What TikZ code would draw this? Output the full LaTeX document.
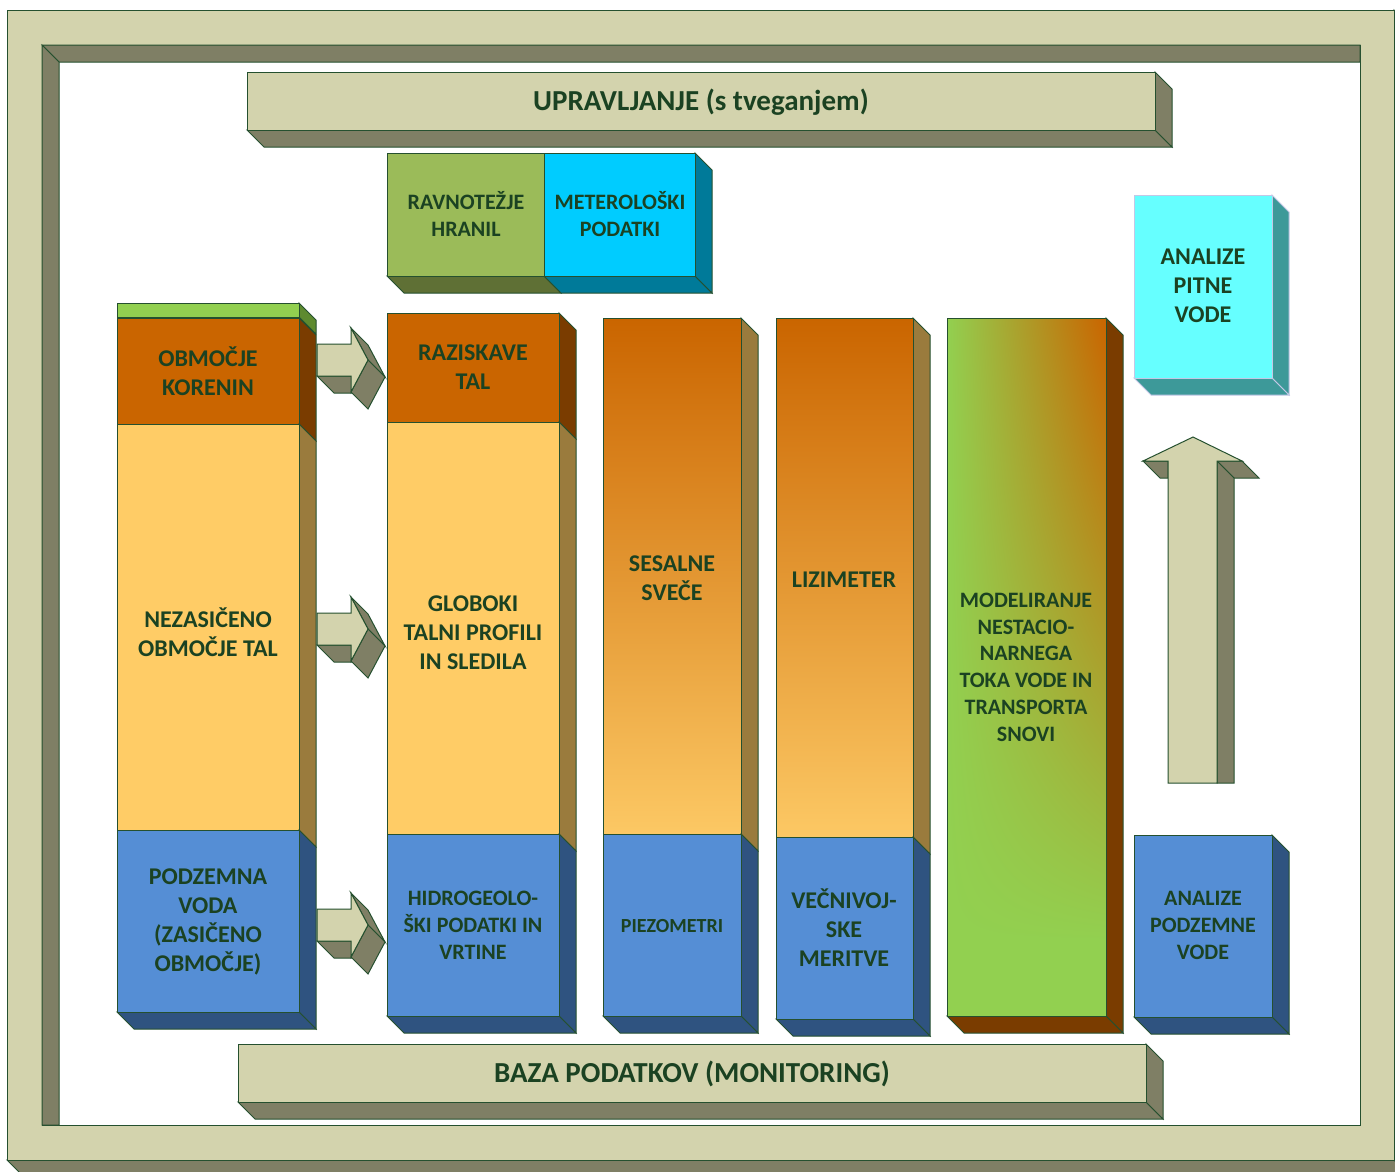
\documentclass[tikz,border=0pt]{standalone}
\usepackage{fontspec}
\setmainfont{Carlito}
\usetikzlibrary{shadings}
\definecolor{khaki}{HTML}{D3D3AD}
\definecolor{khakid}{HTML}{7F7F65}
\definecolor{edgec}{HTML}{25502F}
\definecolor{txt}{HTML}{1B4222}
\definecolor{org}{HTML}{CA6500}
\definecolor{orgd}{HTML}{7A3C00}
\definecolor{yel}{HTML}{FFCC66}
\definecolor{yelb}{HTML}{FCC864}
\definecolor{yeld}{HTML}{9A7B3D}
\definecolor{blu}{HTML}{558ED5}
\definecolor{blud}{HTML}{2F5380}
\definecolor{grn}{HTML}{92D050}
\definecolor{grnd}{HTML}{5E8A2F}
\definecolor{olv}{HTML}{9BBB59}
\definecolor{olvd}{HTML}{5F7035}
\definecolor{cya}{HTML}{00CCFF}
\definecolor{cyad}{HTML}{007A99}
\definecolor{lcy}{HTML}{66FFFF}
\definecolor{lcyd}{HTML}{3D9999}
\definecolor{lav}{HTML}{C3C8E6}
\tikzset{
  face/.style={draw=edgec, line width=1pt},
  lbl/.style={align=center, text=txt, inner sep=0pt,
    font=\bfseries\fontsize{24}{29}\selectfont,
    execute at begin node=\vphantom{Ž}, execute at end node=\vphantom{g}},
  lblm/.style={lbl, font=\bfseries\fontsize{22}{26.8}\selectfont},
  lbls/.style={lbl, font=\bfseries\fontsize{20}{24}\selectfont},
  lblt/.style={lbl, font=\bfseries\fontsize{29}{35}\selectfont},
}
% right face: x2, y1, y2, fill
\newcommand\rface[4]{\path[face,fill=#4] (#1,#2) -- (#1+17,#2+17) -- (#1+17,#3+17) -- (#1,#3) -- cycle;}
% bottom face: x1, x2, y2, fill
\newcommand\bface[4]{\path[face,fill=#4] (#1,#3) -- (#2,#3) -- (#2+17,#3+17) -- (#1+17,#3+17) -- cycle;}
% right-pointing 3D arrow, centre y
\newcommand\rarr[1]{%
  \path[face,fill=khakid] (317,#1+16) -- (351,#1+16) -- (368,#1+33) -- (334,#1+33) -- cycle;
  \path[face,fill=khakid] (351,#1-32) -- (368,#1) -- (385,#1+17) -- (368,#1-15) -- cycle;
  \path[face,fill=khakid] (368,#1) -- (351,#1+32) -- (368,#1+49) -- (385,#1+17) -- cycle;
  \path[face,fill=khaki] (317,#1-16) -- (351,#1-16) -- (351,#1-32) -- (368,#1) -- (351,#1+32) -- (351,#1+16) -- (317,#1+16) -- cycle;}
\begin{document}
\begin{tikzpicture}[x=1pt,y=-1pt]
\useasboundingbox (0,0) rectangle (1395,1171);
\clip (0,0) rectangle (1395,1171);
\fill[white] (0,0) rectangle (1395,1171);
% ---- outer frame ----
\path[face,fill=khakid] (7,1160) -- (1394,1160) -- (1411,1177) -- (24,1177) -- cycle;
\path[face,fill=khakid] (1394,10) -- (1411,27) -- (1411,1177) -- (1394,1160) -- cycle;
\path[face,fill=khaki,even odd rule] (7,10) rectangle (1394,1160) (42,45) rectangle (1360,1125);
\path[face,fill=khakid] (42,45) -- (1360,45) -- (1360,62) -- (59,62) -- cycle;
\path[face,fill=khakid] (42,45) -- (59,62) -- (59,1125) -- (42,1125) -- cycle;
% ---- UPRAVLJANJE ----
\bface{247}{1155}{130}{khakid}
\rface{1155}{72}{130}{khakid}
\path[face,fill=khaki] (247,72) rectangle (1155,130);
\node[lblt] (upr) at (701,101) {UPRAVLJANJE (s tveganjem)};
% ---- RAVNOTEZJE / METEROLOSKI ----
\bface{387}{544}{276}{olvd}
\bface{544}{695}{276}{cyad}
\rface{695}{153}{276}{cyad}
\path[face,fill=olv] (387,153) rectangle (544,276);
\path[face,fill=cya] (544,153) rectangle (695,276);
\node[lblm] (rav) at (466,216) {RAVNOTEŽJE\\HRANIL};
\node[lblm] (met) at (620,216) {METEROLOŠKI\\PODATKI};
% ---- left column ----
\rface{299}{303}{317}{grnd}
\path[face,fill=grn] (117,303) rectangle (299,317);
\rface{299}{318}{424}{orgd}
\path[face,fill=org] (117,318) rectangle (299,424);
\rface{299}{424}{830}{yeld}
\path[face,fill=yel] (117,424) rectangle (299,830);
\rface{299}{830}{1012}{blud}
\bface{117}{299}{1012}{blud}
\path[face,fill=blu] (117,830) rectangle (299,1012);
\node[lbl] (kor) at (208,373) {OBMOČJE\\KORENIN};
\node[lbl] (nez) at (208,634) {NEZASIČENO\\OBMOČJE TAL};
\node[lbl] (pod) at (208,922) {PODZEMNA\\VODA\\(ZASIČENO\\OBMOČJE)};
% ---- arrows ----
\rarr{360}
\rarr{629}
\rarr{925}
% ---- second column ----
\rface{559}{313}{422}{orgd}
\path[face,fill=org] (387,313) rectangle (559,422);
\rface{559}{422}{834}{yeld}
\path[face,fill=yel] (387,422) rectangle (559,834);
\rface{559}{834}{1016}{blud}
\bface{387}{559}{1016}{blud}
\path[face,fill=blu] (387,834) rectangle (559,1016);
\node[lbl] (raz) at (473,369) {RAZISKAVE\\TAL};
\node[lbl] (glo) at (473,635) {GLOBOKI\\TALNI PROFILI\\IN SLEDILA};
\node[lblm] (hid) at (473,927) {HIDROGEOLO-\\ŠKI PODATKI IN\\VRTINE};
% ---- SESALNE ----
\rface{741}{318}{834}{yeld}
\path[face,top color=org,bottom color=yelb] (603,318) rectangle (741,834);
\rface{741}{834}{1016}{blud}
\bface{603}{741}{1016}{blud}
\path[face,fill=blu] (603,834) rectangle (741,1016);
\node[lbl] (ses) at (672,580) {SESALNE\\SVEČE};
\node[lbls] (pie) at (672,926) {PIEZOMETRI};
% ---- LIZIMETER ----
\rface{913}{318}{837}{yeld}
\path[face,top color=org,bottom color=yelb] (776,318) rectangle (913,837);
\rface{913}{837}{1019}{blud}
\bface{776}{913}{1019}{blud}
\path[face,fill=blu] (776,837) rectangle (913,1019);
\node[lbl] (liz) at (844,580) {LIZIMETER};
\node[lbl] (vec) at (844,930) {VEČNIVOJ-\\SKE\\MERITVE};
% ---- MODELIRANJE ----
\rface{1106}{318}{1016}{orgd}
\bface{947}{1106}{1016}{orgd}
\fill[grn] (947,940) rectangle (1106,1016);
\shade[upper left=grn,upper right=org,lower left=grn,lower right=grn] (947,318) rectangle (1106,941);
\draw[face] (947,318) rectangle (1106,1016);
\node[lblm] (mod) at (1026,669) {MODELIRANJE\\NESTACIO-\\NARNEGA\\TOKA VODE IN\\TRANSPORTA\\SNOVI};
% ---- ANALIZE PITNE VODE ----
\path[draw=lav,line width=1pt,fill=lcyd] (1272,195) -- (1289,212) -- (1289,395) -- (1272,378) -- cycle;
\path[draw=lav,line width=1pt,fill=lcyd] (1134,378) -- (1272,378) -- (1289,395) -- (1151,395) -- cycle;
\path[draw=lav,line width=1pt,fill=lcy] (1134,195) rectangle (1272,378);
\node[lbl] (pit) at (1203,288) {ANALIZE\\PITNE\\VODE};
% ---- up arrow ----
\path[face,fill=khakid] (1143,461) -- (1168,461) -- (1168,478) -- (1160,478) -- cycle;
\path[face,fill=khakid] (1217,461) -- (1242,461) -- (1259,478) -- (1234,478) -- cycle;
\path[face,fill=khakid] (1217,461) -- (1234,478) -- (1234,783) -- (1217,783) -- cycle;
\path[face,fill=khaki] (1193,437) -- (1242,461) -- (1217,461) -- (1217,783) -- (1168,783) -- (1168,461) -- (1143,461) -- cycle;
% ---- ANALIZE PODZEMNE VODE ----
\rface{1272}{835}{1017}{blud}
\bface{1134}{1272}{1017}{blud}
\path[face,fill=blu] (1134,835) rectangle (1272,1017);
\node[lblm] (apv) at (1203,927) {ANALIZE\\PODZEMNE\\VODE};
% ---- BAZA ----
\bface{238}{1146}{1102}{khakid}
\rface{1146}{1044}{1102}{khakid}
\path[face,fill=khaki] (238,1044) rectangle (1146,1102);
\node[lblt] (baz) at (692,1073) {BAZA PODATKOV (MONITORING)};
\end{tikzpicture}
\end{document}
